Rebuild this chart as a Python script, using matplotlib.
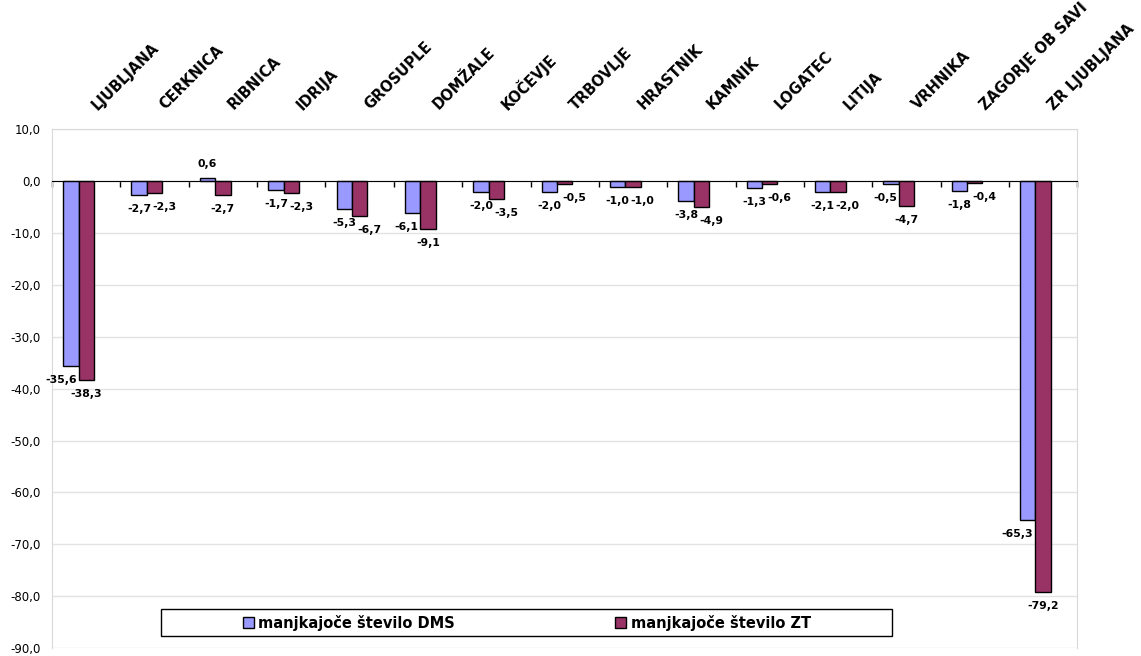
import matplotlib
matplotlib.use("Agg")
import matplotlib.pyplot as plt
from matplotlib.patches import Patch, Rectangle
import numpy as np

plt.rcParams['font.family'] = ['DejaVu Sans']

categories = ["LJUBLJANA", "CERKNICA", "RIBNICA", "IDRIJA", "GROSUPLE", "DOMŽALE",
              "KOČEVJE", "TRBOVLJE", "HRASTNIK", "KAMNIK", "LOGATEC", "LITIJA",
              "VRHNIKA", "ZAGORJE OB SAVI", "ZR LJUBLJANA"]
dms = [-35.6, -2.7, 0.6, -1.7, -5.3, -6.1, -2.0, -2.0, -1.0, -3.8, -1.3, -2.1, -0.5, -1.8, -65.3]
zt = [-38.3, -2.3, -2.7, -2.3, -6.7, -9.1, -3.5, -0.5, -1.0, -4.9, -0.6, -2.0, -4.7, -0.4, -79.2]
series_names = ["manjkajoče število DMS", "manjkajoče število ZT"]
yticks = [10, 0, -10, -20, -30, -40, -50, -60, -70, -80, -90]

BLUE = '#9999FF'
PURPLE = '#993366'
GRID = '#e3e3e3'


def fmt(v):
    return f"{v:.1f}".replace('.', ',')


fig = plt.figure(figsize=(11.41, 6.56), dpi=100)
ax = fig.add_axes([0.0456, 0.0122, 0.8986, 0.7904])

x = np.arange(len(categories))
w = 0.225
ax.bar(x - w, dms, w, color=BLUE, edgecolor='black', linewidth=1, zorder=3)
ax.bar(x, zt, w, color=PURPLE, edgecolor='black', linewidth=1, zorder=3)

ax.set_xlim(-0.5, len(categories) - 0.5)
ax.set_ylim(-90, 10)
ax.set_yticks(yticks)
ax.set_yticklabels([fmt(v) for v in yticks], fontsize=8.5)
ax.tick_params(axis='y', length=0, pad=8)
ax.yaxis.grid(True, color=GRID, linewidth=1)
ax.set_axisbelow(True)

# zero line acts as category axis, ticks between categories
ax.spines['bottom'].set_position(('data', 0))
ax.spines['bottom'].set_color('black')
ax.spines['bottom'].set_zorder(4)
ax.set_xticks(np.arange(-0.5, len(categories), 1.0))
ax.set_xticklabels([])
ax.tick_params(axis='x', direction='out', length=4, width=1, color='black')
for s in ['left', 'top', 'right']:
    ax.spines[s].set_color('#d9d9d9')

# category labels on top, rotated
for i, name in enumerate(categories):
    ax.annotate(name, xy=(i, 1), xycoords=('data', 'axes fraction'),
                xytext=(11, 19), textcoords='offset pixels', rotation=45,
                rotation_mode='anchor', ha='left', va='baseline',
                fontsize=10.5, fontweight='bold')

# data labels
fig.canvas.draw()
renderer = fig.canvas.get_renderer()
lab_kw = dict(textcoords='offset pixels', fontsize=7.8, fontweight='bold', zorder=6)
for i in range(len(categories)):
    d, z = dms[i], zt[i]
    yd = ax.transData.transform((0, d))[1]
    yz = ax.transData.transform((0, z))[1]
    dy_d = 14 if d >= 0 else -14
    dy_z = 14 if z >= 0 else -14
    # purple bar reaching under the blue label -> push blue label left of it
    if d < 0 and yz < yd + dy_d + 5:
        tb = ax.annotate(fmt(d), xy=(i - w / 2, d), xytext=(-2, dy_d),
                         ha='right', va='center', **lab_kw)
    else:
        tb = ax.annotate(fmt(d), xy=(i - w, d), xytext=(0, dy_d),
                         ha='center', va='center', **lab_kw)
    tz = ax.annotate(fmt(z), xy=(i, z), xytext=(0, dy_z),
                     ha='center', va='center', **lab_kw)
    bb = tb.get_window_extent(renderer)
    bz = tz.get_window_extent(renderer)
    if bb.x1 > bz.x0 and abs((bb.y0 + bb.y1) / 2 - (bz.y0 + bz.y1) / 2) < 10:
        tz.xyann = (bb.x1 + 1 - bz.x0, dy_z)

# legend with its own frame
ax.add_patch(Rectangle((0.1063, 0.0230), 0.7132, 0.0522, transform=ax.transAxes,
                       facecolor='white', edgecolor='black', linewidth=1, zorder=5))
handles = [Patch(facecolor=BLUE, edgecolor='black', label=series_names[0]),
           Patch(facecolor=PURPLE, edgecolor='black', label=series_names[1])]
leg = ax.legend(handles=handles, ncol=2, frameon=False, loc='center left',
                bbox_to_anchor=(0.186, 0.049), borderpad=0, borderaxespad=0,
                handlelength=0.75, handleheight=0.75, handletextpad=0.3,
                columnspacing=11.0, prop={'size': 10.5, 'weight': 'bold'})
leg.set_zorder(6)

fig.savefig('out.png', dpi=100)
